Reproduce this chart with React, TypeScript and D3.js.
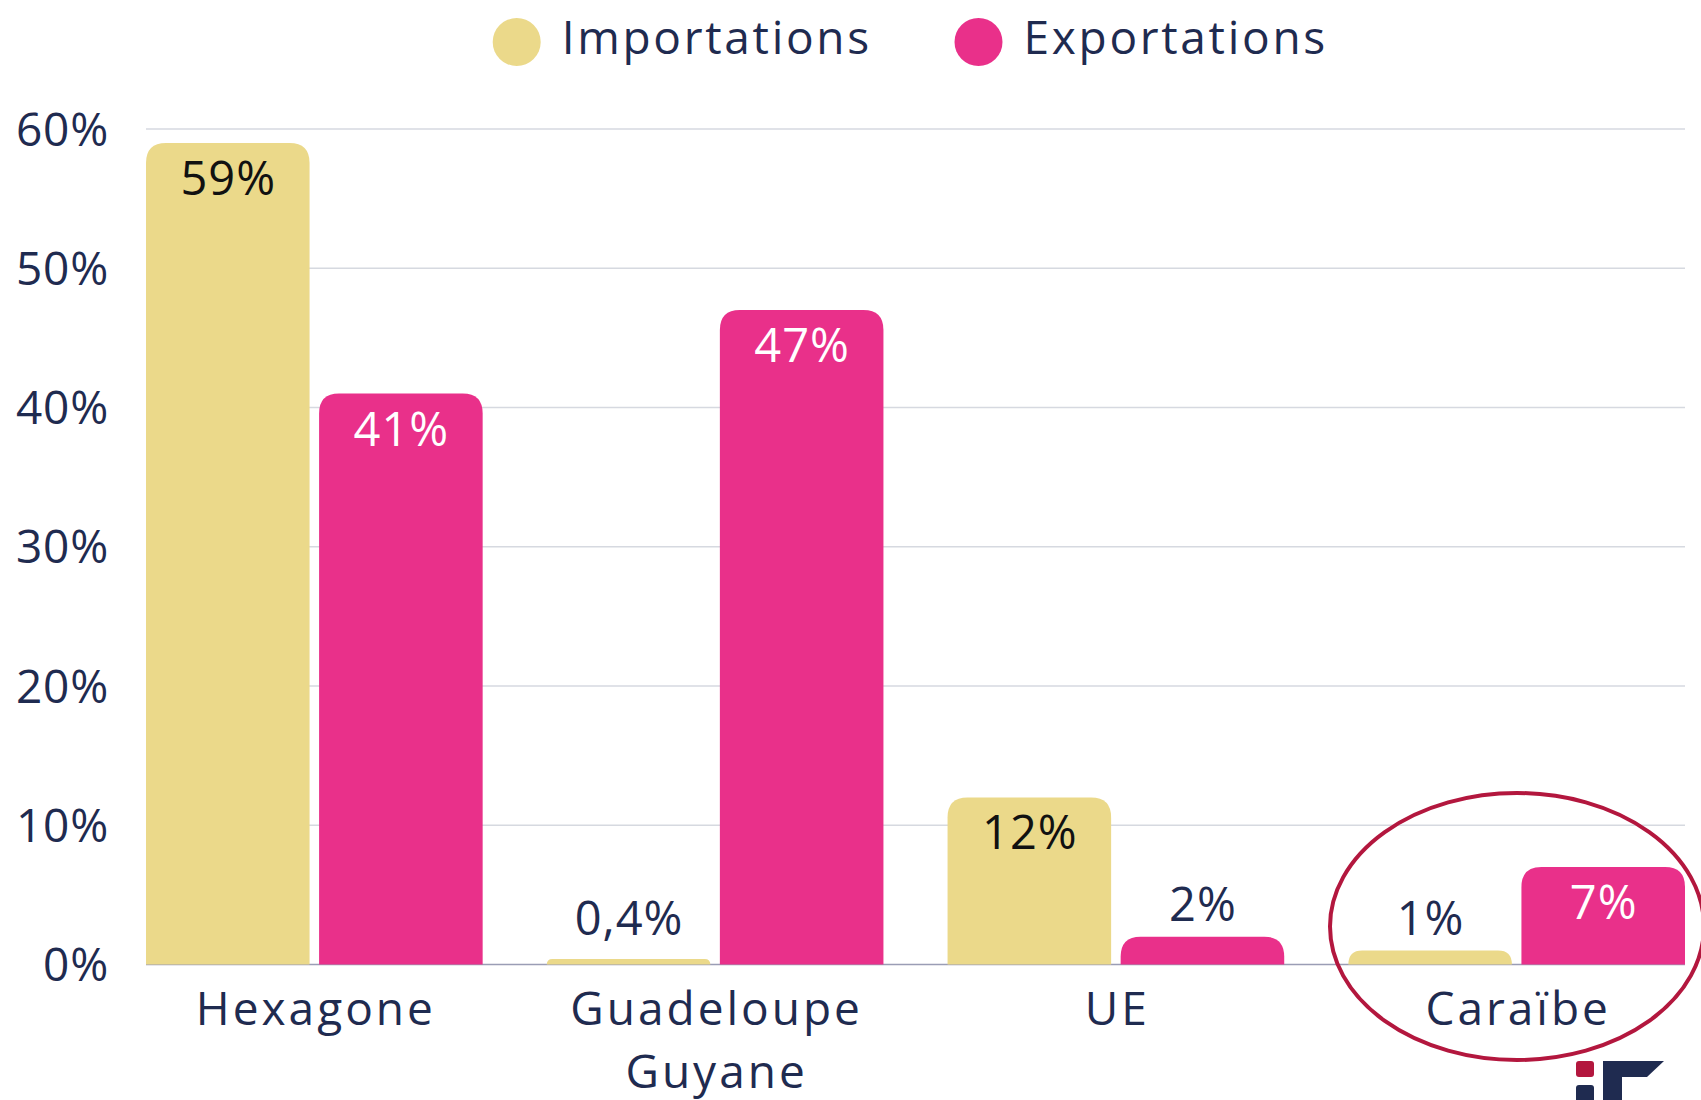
import React from "react";
import * as d3 from "d3";

const categories = ["Hexagone", "Guadeloupe\nGuyane", "UE", "Caraïbe"];
const seriesNames = ["Importations", "Exportations"];
const importations = [59, 0.4, 12, 1];
const exportations = [41, 47, 2, 7];
const valueLabels = [
  ["59%", "0,4%", "12%", "1%"],
  ["41%", "47%", "2%", "7%"],
];
const yTicks = [0, 10, 20, 30, 40, 50, 60];

const W = 1701;
const H = 1100;
const FONT = "'Open Sans', 'DejaVu Sans', sans-serif";
const NAVY = "#1F2B50";
const COLORS = ["#EBD98A", "#E9308A"];
const INSIDE_TEXT = ["#111111", "#FFFFFF"];

function topRoundedRect(x: number, y: number, w: number, h: number, r: number) {
  const rr = Math.max(0, Math.min(r, h, w / 2));
  return `M${x},${y + h}V${y + rr}Q${x},${y} ${x + rr},${y}H${x + w - rr}Q${x + w},${y} ${x + w},${y + rr}V${y + h}Z`;
}

export default function App() {
  const x0 = d3.scaleBand<number>().domain(d3.range(categories.length)).range([146, 1685]).paddingInner(0.16).paddingOuter(0);
  const x1 = d3.scaleBand<number>().domain([0, 1]).range([0, x0.bandwidth()]).paddingInner(0.055);
  const y = d3.scaleLinear().domain([0, 60]).range([964.5, 129]);
  const series = [importations, exportations];

  return (
    <svg width={W} height={H} style={{ position: "absolute", left: 0, top: 0, background: "#fff" }} fontFamily={FONT}>
      {/* grid */}
      {yTicks.map((t) => (
        <g key={t}>
          <line x1={146} x2={1685} y1={y(t)} y2={y(t)} stroke={t === 0 ? "#9A9DB5" : "#D6D9E0"} strokeWidth={1.5} />
          <text x={109} y={y(t)} dy="0.36em" textAnchor="end" fontSize={46} fill={NAVY} letterSpacing={0.8}>
            {t}%
          </text>
        </g>
      ))}
      {/* bars */}
      {categories.map((c, i) => (
        <g key={c} transform={`translate(${x0(i)},0)`}>
          {series.map((s, k) => {
            const v = s[i];
            const bx = x1(k)!;
            const bw = x1.bandwidth();
            const top = y(v);
            const h = y(0) - top;
            const inside = v >= 5;
            const ly = inside ? top + 52 : Math.min(top, y(1)) - 16;
            return (
              <g key={k}>
                <path d={topRoundedRect(bx, top, bw, h, 20)} fill={COLORS[k]} />
                <text x={bx + bw / 2 + 0.5} y={ly} textAnchor="middle" fontSize={47} fill={inside ? INSIDE_TEXT[k] : NAVY} letterSpacing={1}>
                  {valueLabels[k][i]}
                </text>
              </g>
            );
          })}
          {c.split("\n").map((line, li) => (
            <text key={li} x={x0.bandwidth() / 2 + 1.5} y={1025 + li * 63} textAnchor="middle" fontSize={46} fill={NAVY} letterSpacing={3}>
              {line}
            </text>
          ))}
        </g>
      ))}
      {/* legend */}
      {seriesNames.map((n, k) => {
        const cx = [516.7, 978.5][k];
        return (
          <g key={n}>
            <circle cx={cx} cy={42} r={24} fill={COLORS[k]} />
            <text x={cx + 45} y={54} fontSize={46} fill={NAVY} letterSpacing={2.7}>
              {n}
            </text>
          </g>
        );
      })}
      {/* highlight ellipse */}
      <ellipse cx={1517} cy={926.5} rx={187} ry={133.5} fill="none" stroke="#B3173E" strokeWidth={4} />
      {/* logo */}
      <rect x={1576} y={1061} width={18} height={16} rx={3} fill="#B3173E" />
      <rect x={1576} y={1085} width={18} height={30} rx={3} fill={NAVY} />
      <path d="M1603,1061H1664L1647,1077H1622V1100H1603Z" fill={NAVY} />
    </svg>
  );
}
